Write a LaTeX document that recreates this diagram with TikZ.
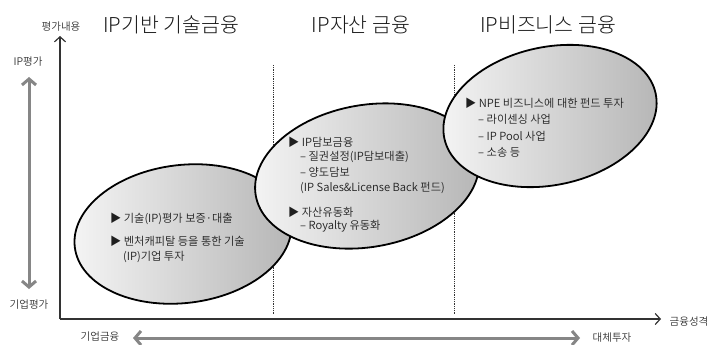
\documentclass[tikz,border=0pt]{standalone}
\usepackage{fontspec}
\setmainfont{Noto Sans CJK KR}
\IfFontExistsTF{Noto Sans CJK KR Light}{\newfontfamily\titlefont{Noto Sans CJK KR Light}}{\newfontfamily\titlefont{Noto Sans CJK KR}}
\IfFontExistsTF{Noto Sans CJK KR DemiLight}{\newfontfamily\bodyfont{Noto Sans CJK KR DemiLight}}{\newfontfamily\bodyfont{Noto Sans CJK KR}}
\usetikzlibrary{arrows.meta}
\begin{document}
\begin{tikzpicture}[x=1pt,y=-1pt,
  blob/.style={draw=black, line width=1.8pt, left color=gray!8, right color=gray!58},
  axis/.style={draw=black!80, line width=1.2pt, -{Straight Barb[length=5pt,width=11pt]}},
  grayarr/.style={draw=gray!95, line width=3pt, {Straight Barb[length=6pt,width=14pt]}-{Straight Barb[length=6pt,width=14pt]}},
  divider/.style={densely dotted, line width=0.8pt, draw=black!80},
  title/.style={font=\titlefont\fontsize{20.5}{24}\selectfont, text=black!90, inner sep=0pt},
  body/.style={font=\bodyfont\fontsize{11.2}{13}\selectfont, anchor=west, inner sep=0pt, text=black!88},
  lbl/.style={font=\bodyfont\fontsize{10.5}{12}\selectfont, inner sep=0pt, text=black!80}]
\useasboundingbox (0,0) rectangle (712,345);

% dividers
\coordinate (d1t) at (273,65); \coordinate (d1b) at (273,315);
\coordinate (d2t) at (454,65); \coordinate (d2b) at (454,315);
\draw[divider] (d1t) -- (d1b);
\draw[divider] (d2t) -- (d2b);

% axes
\coordinate (O) at (60,319);
\coordinate (Ytop) at (60,36);
\coordinate (Xend) at (661,319);
\draw[axis] (O) -- (Ytop);
\draw[axis] (O) -- (Xend);

% gray arrows
\coordinate (va) at (29,77); \coordinate (vb) at (29,289);
\coordinate (ha) at (133,338); \coordinate (hb) at (580,338);
\draw[grayarr] (va) -- (vb);
\draw[grayarr] (ha) -- (hb);

% blobs
\coordinate (cl) at (183,234);
\coordinate (cm) at (367,176);
\coordinate (cr) at (550,116);
\draw[blob, rotate around={7:(cl)}] (cl) ellipse [x radius=109, y radius=69];
\draw[blob, rotate around={10:(cm)}] (cm) ellipse [x radius=113, y radius=71];
\draw[blob, rotate around={12:(cr)}] (cr) ellipse [x radius=108, y radius=69];

% titles
\node[title] (t1) at (171,25) {IP기반 기술금융};
\node[title] (t2) at (361,25) {IP자산 금융};
\node[title] (t3) at (548,25) {IP비즈니스 금융};

% axis labels
\node[lbl] (pn) at (61,27) {평가내용};
\node[lbl] (ipp) at (28,62) {IP평가};
\node[lbl] (gp) at (29,305) {기업평가};
\node[lbl] (gf) at (100,337) {기업금융};
\node[lbl] (alt) at (612,338) {대체투자};
\node[lbl] (fin) at (689,322) {금융성격};

% left blob text
\node[body] (l1) at (110,219) {▶ 기술(IP)평가 보증·대출};
\node[body] (l2) at (110,241) {▶ 벤처캐피탈 등을 통한 기술};
\node[body] (l3) at (123,257) {(IP)기업 투자};

% middle blob text
\node[body] (m1) at (288,142) {▶ IP담보금융};
\node[body] (m2) at (300,157) {– 질권설정(IP담보대출)};
\node[body] (m3) at (300,172) {– 양도담보};
\node[body] (m4) at (300,188) {(IP Sales\&License Back 펀드)};
\node[body] (m5) at (288,212) {▶ 자산유동화};
\node[body] (m6) at (300,226) {– Royalty 유동화};

% right blob text
\node[body] (r1) at (465,103) {▶ NPE 비즈니스에 대한 펀드 투자};
\node[body] (r2) at (478,119) {– 라이센싱 사업};
\node[body] (r3) at (478,136) {– IP Pool 사업};
\node[body] (r4) at (478,152) {– 소송 등};
\end{tikzpicture}
\end{document}
